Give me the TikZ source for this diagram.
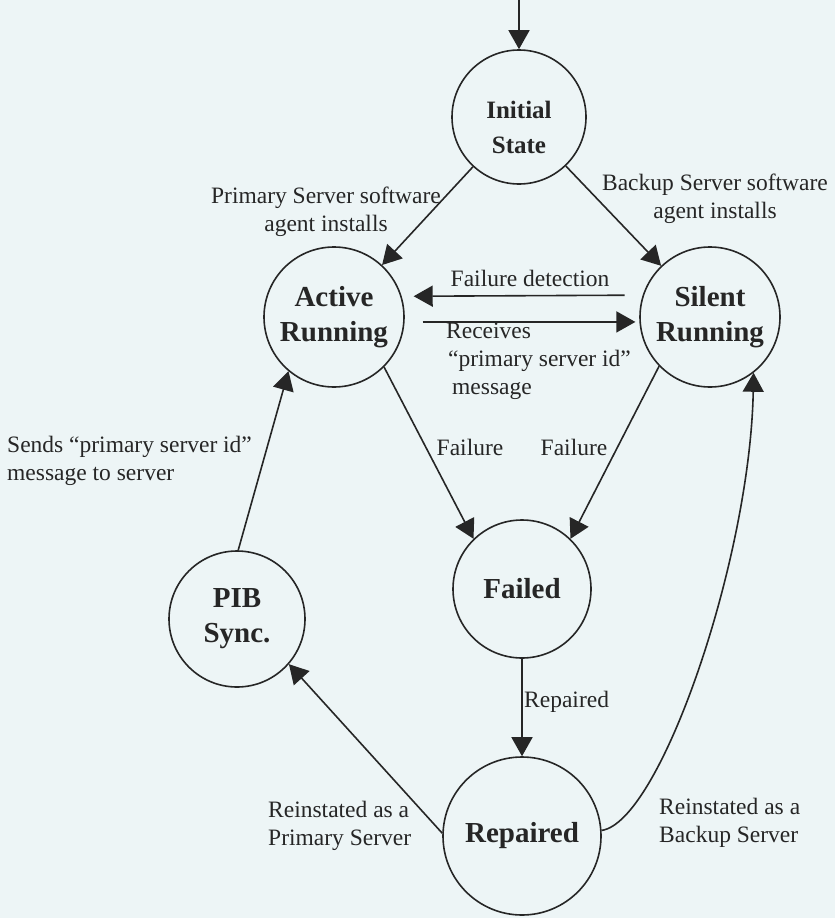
\documentclass[tikz,border=0pt]{standalone}
\usepackage{fontspec}
\setmainfont{Liberation Serif}
\usetikzlibrary{arrows.meta}
\definecolor{bg}{RGB}{237,245,246}
\definecolor{ink}{RGB}{38,38,38}
\begin{document}
\begin{tikzpicture}[x=1pt,y=-1pt,
  stnode/.style={circle,draw=ink,line width=1.6pt,inner sep=0pt,minimum size=#1,
    align=center,text=ink,font=\bfseries\fontsize{29}{35}\selectfont},
  lbl/.style={text=ink,inner sep=0pt,font=\fontsize{23.5}{28}\selectfont},
  arr/.style={draw=ink,line width=1.6pt,-{Triangle[length=19pt,width=21pt]}}]
\fill[bg] (0,0) rectangle (835,918);
\useasboundingbox (0,0) rectangle (835,918);

% states
\node[stnode=134pt,font=\bfseries\fontsize{25}{35}\selectfont] (init) at (519,117) {\raisebox{-19pt}[0pt][0pt]{Initial}\\\raisebox{-19pt}[0pt][0pt]{State}};
\node[stnode=140pt] (act) at (334,317) {Active\\Running};
\node[stnode=140pt] (sil) at (710,317) {Silent\\Running};
\node[stnode=138pt] (fail) at (522,589) {Failed};
\node[stnode=136pt] (pib) at (237,619) {PIB\\Sync.};
\node[stnode=158pt] (rep) at (522,836) {Repaired};

% transitions
\coordinate (entry) at (519,0);
\draw[arr] (entry) -- (init);
\draw[arr] (init) -- (act);
\draw[arr] (init) -- (sil);
\draw[arr,shorten <=18pt,shorten >=12pt] (sil.162.5) -- (act.17.5);
\draw[arr,shorten <=18pt,shorten >=4pt] (act.-4) -- (sil.184);
\draw[arr] (act.-45) -- (fail.134);
\draw[arr] (sil.-136) -- (fail.46);
\draw[arr] (fail) -- (rep);
\draw[arr] (rep.178) -- (pib.-41);
\draw[arr] (pib.89) -- (act.-130);
\draw[arr] (rep.4) .. controls (660,822) and (750,560) .. (sil.-52);

% labels
\node[lbl,align=center] (lpri) at (326,212) {Primary Server software\\agent installs};
\node[lbl,align=center] (lbak) at (715,199) {Backup Server software\\agent installs};
\node[lbl] (lfd) at (530,278) {Failure detection};
\node[lbl,align=left,anchor=west] (lrec) at (446,361) {Receives\\\hspace*{2pt}``primary server id''\\\hspace*{6pt}message};
\node[lbl] (lf1) at (470,447) {Failure};
\node[lbl] (lf2) at (574,447) {Failure};
\node[lbl,align=left,anchor=west] (lsend) at (7,461) {Sends ``primary server id''\\message to server};
\node[lbl,anchor=west] (lrep) at (524,702) {Repaired};
\node[lbl,align=left,anchor=west] (lrp) at (268,826) {Reinstated as a\\Primary Server};
\node[lbl,align=left,anchor=west] (lrb) at (659,823) {Reinstated as a\\Backup Server};
\end{tikzpicture}
\end{document}
